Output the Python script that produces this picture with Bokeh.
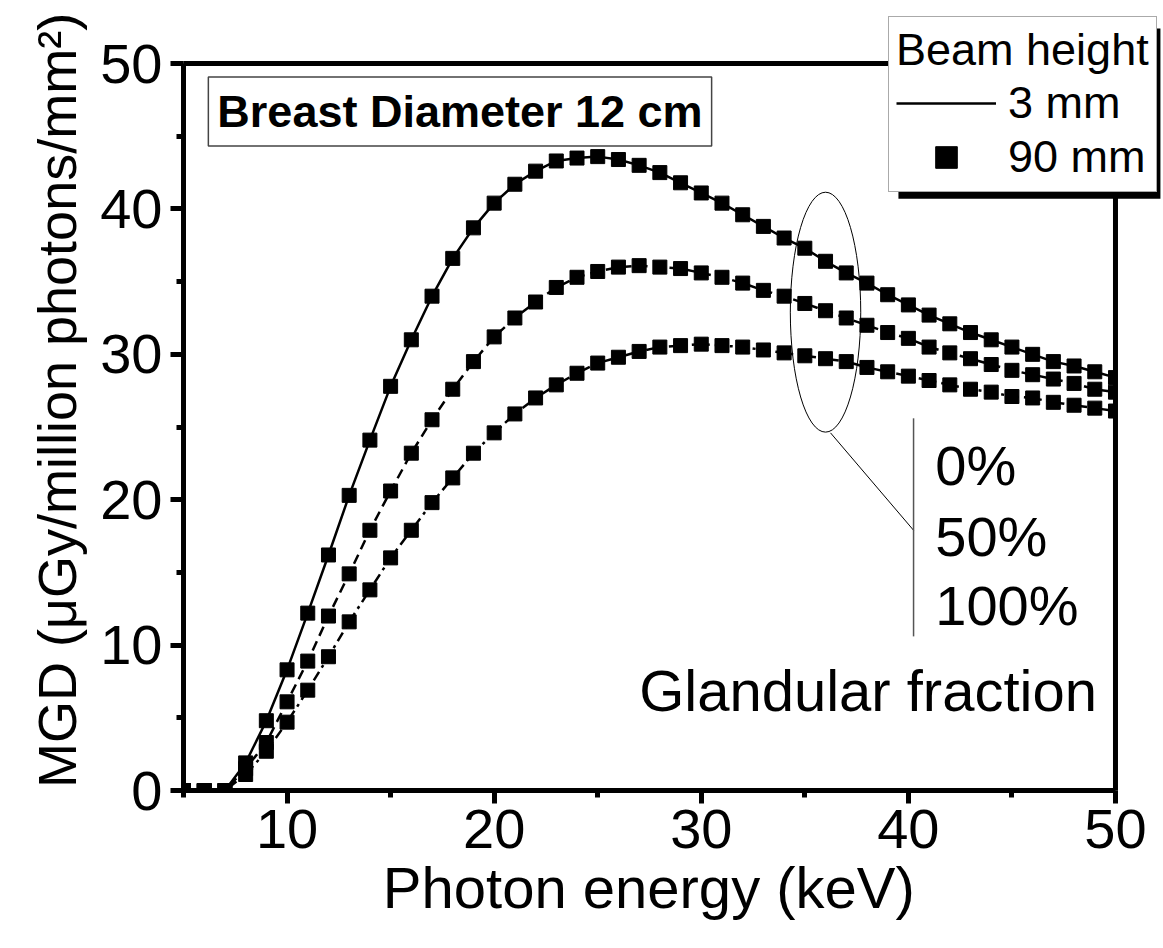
from bokeh.plotting import figure
from bokeh.models import Legend, LegendItem, Label, SingleIntervalTicker
from bokeh.embed import file_html
from bokeh.resources import INLINE

# ---- data ----
energy_kev = list(range(5, 51))

gf0_mgd = [0, 0, 0, 1.9, 4.8, 8.3, 12.2, 16.2, 20.3, 24.1, 27.8, 31.0, 34.0, 36.6,
           38.7, 40.4, 41.7, 42.6, 43.3, 43.5, 43.6, 43.4, 43.0, 42.5, 41.8, 41.1,
           40.4, 39.6, 38.8, 38.0, 37.3, 36.4, 35.6, 34.9, 34.1, 33.4, 32.7, 32.1,
           31.5, 31.0, 30.5, 30.0, 29.5, 29.2, 28.8, 28.4]
gf50_mgd = [0, 0, 0, 1.5, 3.3, 6.1, 8.9, 12.0, 14.9, 17.9, 20.6, 23.2, 25.5, 27.6,
            29.5, 31.2, 32.5, 33.6, 34.6, 35.3, 35.7, 36.0, 36.1, 36.0, 35.9, 35.6,
            35.3, 34.9, 34.4, 34.0, 33.5, 33.0, 32.5, 32.0, 31.5, 31.1, 30.5, 30.1,
            29.7, 29.3, 28.9, 28.6, 28.3, 28.0, 27.6, 27.4]
gf100_mgd = [0, 0, 0, 1.1, 2.7, 4.7, 6.9, 9.2, 11.6, 13.8, 16.0, 17.9, 19.8, 21.5,
             23.2, 24.6, 25.9, 27.0, 27.9, 28.7, 29.4, 29.8, 30.2, 30.5, 30.6, 30.7,
             30.6, 30.5, 30.3, 30.1, 29.9, 29.7, 29.5, 29.1, 28.8, 28.5, 28.2, 27.9,
             27.6, 27.4, 27.1, 27.0, 26.7, 26.5, 26.3, 26.1]

series_mgd = [gf0_mgd, gf50_mgd, gf100_mgd]
line_dashes = ["solid", "10 6", "10 5 3 5"]
fraction_labels = ["0%", "50%", "100%"]

X_MIN, X_MAX = 5, 50      # visible axis box
Y_MIN, Y_MAX = 0, 50
# frame is extended to the right / top so that the legend box (which sticks out of
# the axis box in the reference) is not clipped
X_EXT = 52.27
Y_EXT = 53.65

FONT = "Liberation Sans"

p = figure(width=1163, height=948, x_range=(X_MIN, X_EXT), y_range=(Y_MIN, Y_EXT),
           output_backend="svg", toolbar_location=None,
           min_border_left=183, min_border_right=1,
           min_border_top=10, min_border_bottom=158)
p.xgrid.visible = False
p.ygrid.visible = False
p.outline_line_color = None
p.background_fill_color = "white"
p.border_fill_color = "white"

p.xaxis.ticker = SingleIntervalTicker(interval=10, num_minor_ticks=2)
p.yaxis.ticker = SingleIntervalTicker(interval=10, num_minor_ticks=2)
p.xaxis.bounds = (X_MIN, X_MAX)
p.yaxis.bounds = (Y_MIN, Y_MAX)
for ax in (p.xaxis, p.yaxis):
    ax.axis_line_width = 5
    ax.axis_line_color = "black"
    ax.major_tick_line_width = 5
    ax.minor_tick_line_width = 5
    ax.major_tick_out = 13
    ax.major_tick_in = 0
    ax.minor_tick_out = 7
    ax.minor_tick_in = 0
    ax.major_label_text_font = FONT
    ax.major_label_text_font_size = "56px"
    ax.major_label_text_color = "black"
    ax.axis_label_text_font = FONT
    ax.axis_label_text_font_style = "normal"
    ax.axis_label_text_color = "black"
p.xaxis.axis_label_text_font_size = "58px"
p.yaxis.axis_label_text_font_size = "54px"
p.xaxis.axis_label = "Photon energy (keV)\u00a0\u00a0\u00a0"
p.yaxis.axis_label = "MGD (\u03bcGy/million photons/mm\u00b2)"
p.xaxis.major_label_standoff = 6
p.yaxis.major_label_standoff = 8
p.xaxis.axis_label_standoff = 4
p.yaxis.axis_label_standoff = 10

line_renderers = []
marker_renderers = []
for ys, dash in zip(series_mgd, line_dashes):
    r = p.line(energy_kev, ys, line_color="black", line_width=2.5, line_dash=dash)
    line_renderers.append(r)
for ys in series_mgd:
    m = p.scatter(energy_kev, ys, marker="square", size=14,
                  fill_color="black", line_color="black")
    marker_renderers.append(m)

# hide anything right of the axis box (the reference clips the last markers there)
p.quad(left=[X_MAX], right=[X_EXT + 1], bottom=[Y_MIN - 1], top=[Y_EXT + 1],
       fill_color="white", line_color=None)
# top and right sides of the axis box
p.segment(x0=[X_MIN, X_MAX], y0=[Y_MAX, Y_MIN], x1=[X_MAX, X_MAX], y1=[Y_MAX, Y_MAX],
          line_color="black", line_width=5)

# black drop shadow behind the legend box
p.quad(left=[39.52], right=[52.17], bottom=[40.71], top=[52.41],
       fill_color="black", line_color=None)

# ---- annotation: ellipse, leader lines and texts ----
p.ellipse(x=36.0, y=32.9, width=3.4, height=16.5, fill_color=None,
          line_color="black", line_width=1)
p.segment(x0=[36.24], y0=[24.6], x1=[40.25], y1=[17.9], line_color="black", line_width=1)
p.segment(x0=[40.25], y0=[25.6], x1=[40.25], y1=[10.6], line_color="#555555", line_width=1.5)

for txt, yy in zip(fraction_labels, [22.35, 17.5, 12.7]):
    p.add_layout(Label(x=41.3, y=yy, text=txt, text_font=FONT, text_font_size="56px",
                       text_baseline="middle", text_align="left", text_color="black"))
p.add_layout(Label(x=27.0, y=6.9, text="Glandular fraction", text_font=FONT,
                   text_font_size="58px", text_baseline="middle", text_align="left",
                   text_color="black"))
p.add_layout(Label(x=6.2, y=46.7, text="Breast Diameter 12 cm", text_font=FONT,
                   text_font_size="45px", text_font_style="bold", text_baseline="middle",
                   text_align="left", text_color="black",
                   border_line_color="#444444", border_line_width=1.5,
                   background_fill_color="white", padding=9))

# ---- legend ----
legend = Legend(items=[LegendItem(label="3 mm", renderers=[line_renderers[0]]),
                       LegendItem(label="90 mm", renderers=[marker_renderers[0]])],
                location=(705, 598), title="Beam height",
                title_text_font=FONT, title_text_font_size="45px",
                title_text_font_style="normal", title_text_color="black",
                label_text_font=FONT, label_text_font_size="45px",
                label_text_color="black", glyph_width=100, glyph_height=54,
                label_height=54, label_standoff=12, spacing=0, padding=7,
                margin=0, title_standoff=0,
                border_line_color="#555555", border_line_width=1.5,
                background_fill_color="white", background_fill_alpha=1.0)
p.add_layout(legend)

open("out.html", "w").write(file_html(p, INLINE))
